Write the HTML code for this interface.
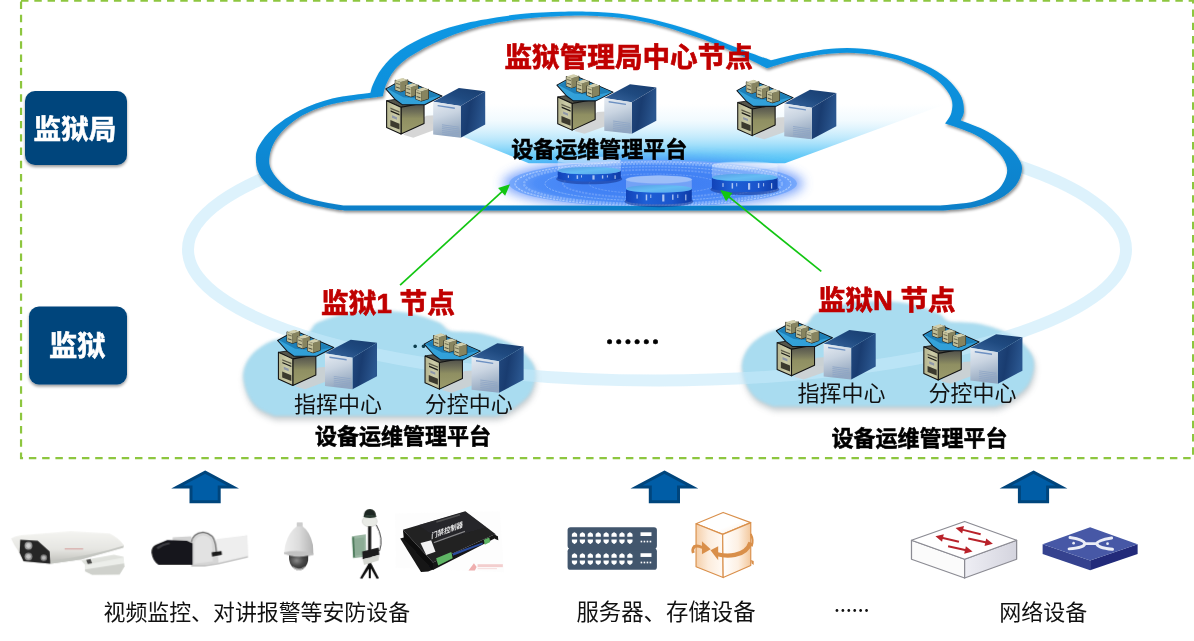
<!DOCTYPE html>
<html lang="zh-CN">
<head>
<meta charset="utf-8">
<title>监狱设备运维管理平台架构</title>
<style>
html,body{margin:0;padding:0;background:#fff;}
body{width:1194px;height:641px;overflow:hidden;position:relative;font-family:'Liberation Sans','Noto Sans CJK SC',sans-serif;}
svg{position:absolute;left:0;top:0;display:block;will-change:transform;}
text{font-family:'Liberation Sans','Noto Sans CJK SC',sans-serif;}
.red{fill:#c00000;font-weight:700;stroke:#c00000;stroke-width:0.7px;}
.blk{fill:#000;font-weight:700;stroke:#000;stroke-width:0.55px;}
.lbl{fill:#111;font-weight:400;}
.wh{fill:#fff;font-weight:700;stroke:#fff;stroke-width:0.6px;}
</style>
</head>
<body>
<svg width="1194" height="641" viewBox="0 0 1194 641">
<defs>
<linearGradient id="gCloud" x1="0" y1="0" x2="0" y2="1">
 <stop offset="0" stop-color="#0c98e4"/><stop offset="0.6" stop-color="#078cd8"/><stop offset="1" stop-color="#0a7fc8"/>
</linearGradient>
<filter id="fSoft" x="-10%" y="-10%" width="120%" height="130%"><feGaussianBlur stdDeviation="1.6"/></filter>
<filter id="fBlur3" x="-20%" y="-40%" width="140%" height="180%"><feGaussianBlur stdDeviation="3"/></filter>
<filter id="fBlur6" x="-20%" y="-60%" width="140%" height="220%"><feGaussianBlur stdDeviation="6"/></filter>
<filter id="fBlur1" x="-10%" y="-10%" width="120%" height="120%"><feGaussianBlur stdDeviation="0.6"/></filter>
<filter id="fShadow" x="-5%" y="-5%" width="110%" height="115%">
 <feGaussianBlur in="SourceAlpha" stdDeviation="1.6" result="b"/>
 <feOffset in="b" dx="1" dy="2.2" result="o"/>
 <feComponentTransfer in="o" result="s"><feFuncA type="linear" slope="0.45"/></feComponentTransfer>
 <feMerge><feMergeNode in="s"/><feMergeNode in="SourceGraphic"/></feMerge>
</filter>
<filter id="fBoxSh" x="-10%" y="-10%" width="120%" height="130%">
 <feGaussianBlur in="SourceAlpha" stdDeviation="1.8" result="b"/>
 <feOffset in="b" dx="0" dy="2" result="o"/>
 <feComponentTransfer in="o" result="s"><feFuncA type="linear" slope="0.4"/></feComponentTransfer>
 <feMerge><feMergeNode in="s"/><feMergeNode in="SourceGraphic"/></feMerge>
</filter>
</defs>
<rect x="21.05" y="0.6" width="1172.05" height="457.45" fill="none" stroke="#8dc63f" stroke-width="2.2" stroke-dasharray="7.45 5.818"/>
<g id="smallclouds">
<g transform="translate(0.0 0.0)"><path d="M274.5 416.0 C271.8 414.7 262.4 411.6 258.0 408.0 C253.6 404.4 250.2 400.2 247.8 394.5 C245.4 388.8 242.8 380.2 243.3 373.8 C243.8 367.4 246.6 361.2 250.8 356.0 C255.0 350.8 262.1 345.8 268.5 342.6 C274.9 339.4 282.6 338.2 289.3 336.7 C296.0 335.2 305.4 334.2 308.6 333.7 C309.1 333.0 309.8 331.2 311.5 329.3 C313.2 327.4 312.8 324.7 319.0 322.0 C325.2 319.3 338.7 314.8 348.6 313.0 C358.5 311.2 368.4 311.0 378.3 311.0 C388.2 311.0 398.0 311.2 407.9 313.0 C417.8 314.8 431.2 319.3 437.6 322.0 C444.0 324.7 444.1 327.7 446.5 329.3 C448.9 330.9 451.1 331.1 452.0 331.5 C457.0 331.9 472.1 331.6 482.0 333.7 C491.9 335.8 503.8 339.9 511.7 344.1 C519.6 348.3 525.5 354.1 529.5 359.0 C533.5 363.9 535.4 367.9 535.4 373.8 C535.4 379.7 533.5 388.6 529.5 394.5 C525.5 400.4 517.1 405.8 511.7 409.4 C506.3 413.0 499.4 414.9 496.9 416.0 L274.5 416.0 Z" fill="#7f8a90" opacity="0.45" filter="url(#fBlur3)" transform="translate(1 4)"/><path d="M274.5 416.0 C271.8 414.7 262.4 411.6 258.0 408.0 C253.6 404.4 250.2 400.2 247.8 394.5 C245.4 388.8 242.8 380.2 243.3 373.8 C243.8 367.4 246.6 361.2 250.8 356.0 C255.0 350.8 262.1 345.8 268.5 342.6 C274.9 339.4 282.6 338.2 289.3 336.7 C296.0 335.2 305.4 334.2 308.6 333.7 C309.1 333.0 309.8 331.2 311.5 329.3 C313.2 327.4 312.8 324.7 319.0 322.0 C325.2 319.3 338.7 314.8 348.6 313.0 C358.5 311.2 368.4 311.0 378.3 311.0 C388.2 311.0 398.0 311.2 407.9 313.0 C417.8 314.8 431.2 319.3 437.6 322.0 C444.0 324.7 444.1 327.7 446.5 329.3 C448.9 330.9 451.1 331.1 452.0 331.5 C457.0 331.9 472.1 331.6 482.0 333.7 C491.9 335.8 503.8 339.9 511.7 344.1 C519.6 348.3 525.5 354.1 529.5 359.0 C533.5 363.9 535.4 367.9 535.4 373.8 C535.4 379.7 533.5 388.6 529.5 394.5 C525.5 400.4 517.1 405.8 511.7 409.4 C506.3 413.0 499.4 414.9 496.9 416.0 L274.5 416.0 Z" fill="#a9dcf0" filter="url(#fSoft)"/></g>
<g transform="translate(498.7 -9.5)"><path d="M274.5 416.0 C271.8 414.7 262.4 411.6 258.0 408.0 C253.6 404.4 250.2 400.2 247.8 394.5 C245.4 388.8 242.8 380.2 243.3 373.8 C243.8 367.4 246.6 361.2 250.8 356.0 C255.0 350.8 262.1 345.8 268.5 342.6 C274.9 339.4 282.6 338.2 289.3 336.7 C296.0 335.2 305.4 334.2 308.6 333.7 C309.1 333.0 309.8 331.2 311.5 329.3 C313.2 327.4 312.8 324.7 319.0 322.0 C325.2 319.3 338.7 314.8 348.6 313.0 C358.5 311.2 368.4 311.0 378.3 311.0 C388.2 311.0 398.0 311.2 407.9 313.0 C417.8 314.8 431.2 319.3 437.6 322.0 C444.0 324.7 444.1 327.7 446.5 329.3 C448.9 330.9 451.1 331.1 452.0 331.5 C457.0 331.9 472.1 331.6 482.0 333.7 C491.9 335.8 503.8 339.9 511.7 344.1 C519.6 348.3 525.5 354.1 529.5 359.0 C533.5 363.9 535.4 367.9 535.4 373.8 C535.4 379.7 533.5 388.6 529.5 394.5 C525.5 400.4 517.1 405.8 511.7 409.4 C506.3 413.0 499.4 414.9 496.9 416.0 L274.5 416.0 Z" fill="#7f8a90" opacity="0.45" filter="url(#fBlur3)" transform="translate(1 4)"/><path d="M274.5 416.0 C271.8 414.7 262.4 411.6 258.0 408.0 C253.6 404.4 250.2 400.2 247.8 394.5 C245.4 388.8 242.8 380.2 243.3 373.8 C243.8 367.4 246.6 361.2 250.8 356.0 C255.0 350.8 262.1 345.8 268.5 342.6 C274.9 339.4 282.6 338.2 289.3 336.7 C296.0 335.2 305.4 334.2 308.6 333.7 C309.1 333.0 309.8 331.2 311.5 329.3 C313.2 327.4 312.8 324.7 319.0 322.0 C325.2 319.3 338.7 314.8 348.6 313.0 C358.5 311.2 368.4 311.0 378.3 311.0 C388.2 311.0 398.0 311.2 407.9 313.0 C417.8 314.8 431.2 319.3 437.6 322.0 C444.0 324.7 444.1 327.7 446.5 329.3 C448.9 330.9 451.1 331.1 452.0 331.5 C457.0 331.9 472.1 331.6 482.0 333.7 C491.9 335.8 503.8 339.9 511.7 344.1 C519.6 348.3 525.5 354.1 529.5 359.0 C533.5 363.9 535.4 367.9 535.4 373.8 C535.4 379.7 533.5 388.6 529.5 394.5 C525.5 400.4 517.1 405.8 511.7 409.4 C506.3 413.0 499.4 414.9 496.9 416.0 L274.5 416.0 Z" fill="#a9dcf0" filter="url(#fSoft)"/></g>
</g>
<ellipse cx="657" cy="249.5" rx="469" ry="131" fill="none" stroke="#c6eafa" stroke-opacity="0.6" stroke-width="12"/>
<path d="M370.5 92.8 C370.9 91.4 371.1 88.5 373.0 84.4 C374.9 80.3 377.5 74.0 382.0 68.3 C386.5 62.6 392.1 56.0 400.2 50.3 C408.3 44.6 418.7 38.9 430.4 34.2 C442.1 29.5 455.5 25.5 470.6 22.1 C485.7 18.8 505.7 15.8 520.8 14.1 C535.9 12.4 549.5 12.1 561.0 11.7 C572.5 11.3 580.1 11.4 590.0 11.7 C599.9 12.0 610.2 12.5 620.2 13.7 C630.2 14.9 640.2 16.9 650.3 19.1 C660.3 21.3 670.5 24.1 680.5 27.1 C690.5 30.1 700.6 33.5 710.6 37.2 C720.6 40.9 730.8 45.4 740.8 49.2 C750.8 53.1 765.9 58.4 770.9 60.3 C775.9 59.1 791.0 55.2 801.0 53.3 C811.0 51.4 821.0 49.5 831.2 48.7 C841.4 47.9 852.0 47.8 862.4 48.7 C872.8 49.6 883.2 51.6 893.6 54.3 C904.0 57.0 915.9 61.0 924.8 65.0 C933.6 69.0 940.7 73.3 946.7 78.4 C952.7 83.5 957.8 90.0 960.7 95.5 C963.6 101.0 963.9 106.9 963.9 111.1 C963.9 115.3 961.2 118.9 960.7 120.5 C965.1 122.3 979.2 127.0 987.3 131.4 C995.4 135.8 1003.6 142.1 1009.1 147.0 C1014.6 151.9 1017.9 156.9 1020.0 161.1 C1022.1 165.3 1022.4 167.8 1021.6 172.0 C1020.8 176.2 1019.0 181.6 1015.4 186.0 C1011.8 190.4 1006.6 195.0 999.8 198.5 C993.0 202.0 984.7 204.9 974.8 206.9 C964.9 208.9 946.1 210.0 940.4 210.6 L345.4 210.6 C343.2 210.3 339.9 210.4 332.3 208.8 C324.7 207.2 309.4 204.5 299.6 201.2 C289.8 197.9 280.1 193.8 273.4 189.2 C266.7 184.6 262.1 179.0 259.2 173.9 C256.3 168.8 255.9 163.3 255.9 158.6 C255.9 153.9 256.3 150.6 259.2 145.5 C262.1 140.4 266.7 133.8 273.4 128.0 C280.1 122.2 289.8 115.5 299.6 110.6 C309.4 105.7 320.5 101.6 332.3 98.6 C344.1 95.6 364.1 93.8 370.5 92.8 Z" fill="#fff"/>
<path d="M370.5 92.8 C370.9 91.4 371.1 88.5 373.0 84.4 C374.9 80.3 377.5 74.0 382.0 68.3 C386.5 62.6 392.1 56.0 400.2 50.3 C408.3 44.6 418.7 38.9 430.4 34.2 C442.1 29.5 455.5 25.5 470.6 22.1 C485.7 18.8 505.7 15.8 520.8 14.1 C535.9 12.4 549.5 12.1 561.0 11.7 C572.5 11.3 580.1 11.4 590.0 11.7 C599.9 12.0 610.2 12.5 620.2 13.7 C630.2 14.9 640.2 16.9 650.3 19.1 C660.3 21.3 670.5 24.1 680.5 27.1 C690.5 30.1 700.6 33.5 710.6 37.2 C720.6 40.9 730.8 45.4 740.8 49.2 C750.8 53.1 765.9 58.4 770.9 60.3 C775.9 59.1 791.0 55.2 801.0 53.3 C811.0 51.4 821.0 49.5 831.2 48.7 C841.4 47.9 852.0 47.8 862.4 48.7 C872.8 49.6 883.2 51.6 893.6 54.3 C904.0 57.0 915.9 61.0 924.8 65.0 C933.6 69.0 940.7 73.3 946.7 78.4 C952.7 83.5 957.8 90.0 960.7 95.5 C963.6 101.0 963.9 106.9 963.9 111.1 C963.9 115.3 961.2 118.9 960.7 120.5 C965.1 122.3 979.2 127.0 987.3 131.4 C995.4 135.8 1003.6 142.1 1009.1 147.0 C1014.6 151.9 1017.9 156.9 1020.0 161.1 C1022.1 165.3 1022.4 167.8 1021.6 172.0 C1020.8 176.2 1019.0 181.6 1015.4 186.0 C1011.8 190.4 1006.6 195.0 999.8 198.5 C993.0 202.0 984.7 204.9 974.8 206.9 C964.9 208.9 946.1 210.0 940.4 210.6 L345.4 210.6 C343.2 210.3 339.9 210.4 332.3 208.8 C324.7 207.2 309.4 204.5 299.6 201.2 C289.8 197.9 280.1 193.8 273.4 189.2 C266.7 184.6 262.1 179.0 259.2 173.9 C256.3 168.8 255.9 163.3 255.9 158.6 C255.9 153.9 256.3 150.6 259.2 145.5 C262.1 140.4 266.7 133.8 273.4 128.0 C280.1 122.2 289.8 115.5 299.6 110.6 C309.4 105.7 320.5 101.6 332.3 98.6 C344.1 95.6 364.1 93.8 370.5 92.8 Z M382.8 96.2 C383.4 94.2 384.2 88.7 386.1 84.4 C388.0 80.1 390.2 75.1 394.2 70.4 C398.2 65.7 402.6 61.3 410.3 56.3 C418.0 51.3 428.7 45.2 440.4 40.2 C452.1 35.2 467.2 29.6 480.6 26.1 C494.0 22.6 507.4 20.8 520.8 19.1 C534.2 17.4 549.5 16.7 561.0 16.1 C572.5 15.5 580.1 15.4 590.0 15.7 C599.9 16.0 610.2 16.5 620.2 17.7 C630.2 18.9 640.2 20.8 650.3 23.1 C660.3 25.5 670.5 28.6 680.5 31.8 C690.5 35.0 700.6 38.3 710.6 42.2 C720.6 46.1 731.4 50.9 740.8 55.3 C750.2 59.6 762.5 66.1 766.9 68.3 C772.6 66.6 790.3 60.8 801.0 58.3 C811.7 55.8 821.0 54.2 831.2 53.4 C841.4 52.6 852.0 52.5 862.4 53.4 C872.8 54.3 883.7 55.9 893.6 58.7 C903.5 61.5 913.9 65.9 921.7 70.0 C929.5 74.1 935.5 78.3 940.4 83.1 C945.3 87.9 949.6 93.8 951.4 98.7 C953.2 103.6 952.4 108.6 951.4 112.7 C950.4 116.8 946.1 121.8 945.1 123.6 C950.0 125.4 966.2 130.2 974.8 134.6 C983.4 139.0 991.4 145.3 996.6 150.2 C1001.8 155.1 1004.4 159.8 1006.0 164.2 C1007.6 168.6 1007.6 172.3 1006.0 176.7 C1004.4 181.1 1001.8 186.6 996.6 190.7 C991.4 194.8 984.2 198.7 974.8 201.2 C965.4 203.7 946.1 204.9 940.4 205.6 L343.2 205.6 C337.8 204.5 319.6 201.7 310.5 199.0 C301.4 196.3 295.1 193.8 288.7 189.2 C282.3 184.6 275.5 177.2 272.3 171.7 C269.1 166.2 268.6 162.2 269.5 156.4 C270.4 150.6 272.8 143.4 277.8 136.8 C282.8 130.2 290.5 122.6 299.6 117.1 C308.7 111.6 318.4 107.5 332.3 104.0 C346.2 100.5 374.4 97.5 382.8 96.2 Z" fill="url(#gCloud)" fill-rule="evenodd" filter="url(#fShadow)"/>
<defs>
<linearGradient id="gBeigeR" x1="0" y1="0" x2="0" y2="1">
 <stop offset="0" stop-color="#4c4c48"/><stop offset="0.28" stop-color="#6f6f58"/><stop offset="0.5" stop-color="#8f8f62"/><stop offset="1" stop-color="#9c9c6c"/>
</linearGradient>
<linearGradient id="gBeigeF" x1="0" y1="0" x2="1" y2="0">
 <stop offset="0" stop-color="#b4b48e"/><stop offset="0.6" stop-color="#cbcba8"/><stop offset="1" stop-color="#bebe98"/>
</linearGradient>
<linearGradient id="gTowF" x1="0" y1="0" x2="0.25" y2="1">
 <stop offset="0" stop-color="#e6ecf3"/><stop offset="0.45" stop-color="#c9d4e1"/><stop offset="1" stop-color="#93a7bf"/>
</linearGradient>
<linearGradient id="gTowR" x1="0" y1="0" x2="1" y2="0.3">
 <stop offset="0" stop-color="#22497f"/><stop offset="0.45" stop-color="#193c70"/><stop offset="1" stop-color="#2a568f"/>
</linearGradient>
<linearGradient id="gTowT" x1="0" y1="1" x2="1" y2="0">
 <stop offset="0" stop-color="#3a679f"/><stop offset="0.5" stop-color="#1f4a80"/><stop offset="1" stop-color="#183c6e"/>
</linearGradient>
<linearGradient id="gTray" x1="0" y1="0" x2="1" y2="1">
 <stop offset="0" stop-color="#3aa7dc"/><stop offset="1" stop-color="#2d9cd6"/>
</linearGradient>
<g id="mini">
 <polygon points="0,20 42,33 97,17 97,90 42,108 0,93" fill="#2a2a22" stroke="#23231c" stroke-width="8" stroke-linejoin="round"/>
 <polygon points="0,20 42,33 42,108 0,93" fill="#c2bf98"/>
 <polygon points="42,33 97,17 97,90 42,108" fill="#87845f"/>
 <polygon points="0,20 55,2 97,17 42,33" fill="#d2cfac"/>
 <polygon points="6,38 36,48 36,56 6,46" fill="#6d6b52"/>
 <polygon points="6,68 36,78 36,86 6,76" fill="#4f4d3c"/>
</g>
<g id="pc">
 <polygon points="215,568 410,405 492,400 492,522 300,592" fill="#cfcfcf" opacity="0.85"/>
 <!-- beige tower -->
 <polygon points="72,276 195,332 392,296 270,246" fill="#55554a" stroke="#111" stroke-width="7" stroke-linejoin="round"/>
 <polygon points="195,332 392,296 392,470 195,560" fill="url(#gBeigeR)" stroke="#111" stroke-width="9" stroke-linejoin="round"/>
 <polygon points="72,276 195,332 195,560 72,505" fill="url(#gBeigeF)" stroke="#111" stroke-width="9" stroke-linejoin="round"/>
 <polygon points="104,335 182,366 182,378 104,347" fill="#5d5b48"/>
 <polygon points="106,358 182,390 182,402 106,370" fill="#1c1c18"/>
 <polygon points="118,400 160,417 160,438 118,421" fill="#8f98a8"/>
 <polygon points="104,440 182,472 182,522 104,492" fill="#3c3a2e"/>
 <!-- tray -->
 <polygon points="65,175 215,92 545,235 398,310 205,310 148,268" fill="url(#gTray)" stroke="#10161e" stroke-width="9" stroke-linejoin="round"/>
 <polygon points="82,176 215,100 528,234 392,262 215,246" fill="#1a79b2" opacity="0.85"/>
 <use href="#mini" transform="translate(146 80) scale(1.1)"/>
 <use href="#mini" transform="translate(234 124) scale(1.1)"/>
 <use href="#mini" transform="translate(322 160) scale(1.1)"/>
 <!-- blue tower -->
 <polygon points="470,285 690,168 915,195 705,322" fill="url(#gTowT)"/>
 <polygon points="705,322 915,195 915,480 705,592" fill="url(#gTowR)"/>
 <polygon points="470,285 705,322 705,592 470,565" fill="url(#gTowF)"/>
 <polygon points="508,312 655,334 655,346 508,324" fill="#6c90c2"/>
 <g fill="#8fa6c6" opacity="0.9">
  <polygon points="545,478 690,498 690,506 545,486"/>
  <polygon points="545,494 690,514 690,522 545,502"/>
  <polygon points="545,510 690,530 690,538 545,518"/>
  <polygon points="545,526 690,546 690,554 545,534"/>
  <polygon points="545,542 690,562 690,570 545,550"/>
  <polygon points="545,558 690,578 690,586 545,566"/>
 </g>
</g>
</defs>
<text id="dd" class="blk" x="411" y="356.3" font-size="25" style="font-family:'Noto Sans CJK SC',sans-serif;stroke-width:0;font-weight:500;fill:#0c3c4c">…</text>
<defs>
<linearGradient id="gBeam" x1="0" y1="0" x2="0" y2="1">
 <stop offset="0" stop-color="#c8ecfc" stop-opacity="0"/><stop offset="0.28" stop-color="#c8ecfc" stop-opacity="0.25"/><stop offset="0.6" stop-color="#aee3fb" stop-opacity="0.85"/><stop offset="0.85" stop-color="#6fcdf8" stop-opacity="1"/><stop offset="1" stop-color="#4cc1f6" stop-opacity="1"/>
</linearGradient>
<radialGradient id="gPlat" cx="0.5" cy="0.5" r="0.5">
 <stop offset="0" stop-color="#3f7cf2"/><stop offset="0.55" stop-color="#4383f5"/><stop offset="0.82" stop-color="#4f8ef8"/><stop offset="1" stop-color="#78a9fc"/>
</radialGradient>
<linearGradient id="gBand" x1="0" y1="0" x2="1" y2="0">
 <stop offset="0" stop-color="#1243b8"/><stop offset="0.3" stop-color="#1d5fd6"/><stop offset="0.7" stop-color="#1a55cc"/><stop offset="1" stop-color="#0d3aa6"/>
</linearGradient>
<linearGradient id="gBandTop" x1="0" y1="0" x2="1" y2="1">
 <stop offset="0" stop-color="#1576da"/><stop offset="0.5" stop-color="#2ba4ef"/><stop offset="1" stop-color="#1784e2"/>
</linearGradient>
<clipPath id="cpCloud"><path d="M382.8 96.2 C383.4 94.2 384.2 88.7 386.1 84.4 C388.0 80.1 390.2 75.1 394.2 70.4 C398.2 65.7 402.6 61.3 410.3 56.3 C418.0 51.3 428.7 45.2 440.4 40.2 C452.1 35.2 467.2 29.6 480.6 26.1 C494.0 22.6 507.4 20.8 520.8 19.1 C534.2 17.4 549.5 16.7 561.0 16.1 C572.5 15.5 580.1 15.4 590.0 15.7 C599.9 16.0 610.2 16.5 620.2 17.7 C630.2 18.9 640.2 20.8 650.3 23.1 C660.3 25.5 670.5 28.6 680.5 31.8 C690.5 35.0 700.6 38.3 710.6 42.2 C720.6 46.1 731.4 50.9 740.8 55.3 C750.2 59.6 762.5 66.1 766.9 68.3 C772.6 66.6 790.3 60.8 801.0 58.3 C811.7 55.8 821.0 54.2 831.2 53.4 C841.4 52.6 852.0 52.5 862.4 53.4 C872.8 54.3 883.7 55.9 893.6 58.7 C903.5 61.5 913.9 65.9 921.7 70.0 C929.5 74.1 935.5 78.3 940.4 83.1 C945.3 87.9 949.6 93.8 951.4 98.7 C953.2 103.6 952.4 108.6 951.4 112.7 C950.4 116.8 946.1 121.8 945.1 123.6 C950.0 125.4 966.2 130.2 974.8 134.6 C983.4 139.0 991.4 145.3 996.6 150.2 C1001.8 155.1 1004.4 159.8 1006.0 164.2 C1007.6 168.6 1007.6 172.3 1006.0 176.7 C1004.4 181.1 1001.8 186.6 996.6 190.7 C991.4 194.8 984.2 198.7 974.8 201.2 C965.4 203.7 946.1 204.9 940.4 205.6 L343.2 205.6 C337.8 204.5 319.6 201.7 310.5 199.0 C301.4 196.3 295.1 193.8 288.7 189.2 C282.3 184.6 275.5 177.2 272.3 171.7 C269.1 166.2 268.6 162.2 269.5 156.4 C270.4 150.6 272.8 143.4 277.8 136.8 C282.8 130.2 290.5 122.6 299.6 117.1 C308.7 111.6 318.4 107.5 332.3 104.0 C346.2 100.5 374.4 97.5 382.8 96.2 Z"/></clipPath>
</defs>
<g clip-path="url(#cpCloud)"><polygon points="381.9,104 945.9,104 785,163.2 528.8,163.2" fill="url(#gBeam)"/><ellipse cx="653" cy="183.5" rx="150" ry="25.5" fill="#5388fa" opacity="0.8" filter="url(#fBlur6)"/><ellipse cx="653" cy="183.5" rx="144" ry="23.5" fill="url(#gPlat)" filter="url(#fBlur1)"/><ellipse cx="653" cy="183.8" rx="138" ry="22" fill="none" stroke="#dbeaff" stroke-opacity="0.55" stroke-width="1.2" stroke-dasharray="2.2 1.1"/><ellipse cx="653" cy="183.8" rx="129" ry="20.3" fill="none" stroke="#dbeaff" stroke-opacity="0.3" stroke-width="2.4" stroke-dasharray="2.2 1.1"/><ellipse cx="653" cy="183.8" rx="108" ry="17" fill="none" stroke="#dbeaff" stroke-opacity="0.4" stroke-width="0.9" stroke-dasharray="2.2 1.1"/><ellipse cx="653" cy="183.8" rx="90" ry="14" fill="none" stroke="#dbeaff" stroke-opacity="0.22" stroke-width="1.8" stroke-dasharray="2.2 1.1"/><ellipse cx="653" cy="183.8" rx="64" ry="9.8" fill="none" stroke="#dbeaff" stroke-opacity="0.3" stroke-width="0.8" stroke-dasharray="2.2 1.1"/></g>
<ellipse cx="589.2" cy="178.9" rx="33.1" ry="5.4" fill="#0b2c86" opacity="0.5" filter="url(#fBlur1)"/><path d="M557.7 170.6 L557.7 177.9 A31.5 3.6 0 0 0 620.8 177.9 L620.8 170.6 A31.5 3.6 0 0 1 557.7 170.6 Z" fill="url(#gBand)"/><ellipse cx="589.2" cy="170.6" rx="31.5" ry="3.6" fill="url(#gBandTop)"/><rect x="567.8" y="175.3" width="1.2" height="2.5" fill="#e6f1ff" opacity="0.7"/><rect x="576.6" y="175.3" width="1.5" height="3.6" fill="#e6f1ff" opacity="0.7"/><rect x="581.0" y="175.3" width="1.0" height="2.2" fill="#e6f1ff" opacity="0.7"/><rect x="592.4" y="175.3" width="2.2" height="4.3" fill="#e6f1ff" opacity="0.7"/><rect x="601.9" y="175.3" width="1.4" height="3.3" fill="#e6f1ff" opacity="0.7"/><rect x="606.9" y="175.3" width="1.0" height="2.2" fill="#e6f1ff" opacity="0.7"/><rect x="614.5" y="175.3" width="1.2" height="3.6" fill="#e6f1ff" opacity="0.7"/><path d="M557.7 160.4 L557.7 170.6 A31.5 3.6 0 0 0 620.8 170.6 L620.8 160.4 A31.5 3.6 0 0 0 557.7 160.4 Z" fill="#eaf4ff" opacity="0.3"/><ellipse cx="589.2" cy="160.4" rx="31.5" ry="3.6" fill="#f6faff" opacity="0.32" stroke="#fff" stroke-opacity="0.8" stroke-width="0.6"/>
<ellipse cx="744.8" cy="189.4" rx="34.5" ry="5.7" fill="#0b2c86" opacity="0.5" filter="url(#fBlur1)"/><path d="M711.9 177.5 L711.9 188.4 A32.9 3.8 0 0 0 777.6 188.4 L777.6 177.5 A32.9 3.8 0 0 1 711.9 177.5 Z" fill="url(#gBand)"/><ellipse cx="744.8" cy="177.5" rx="32.9" ry="3.8" fill="url(#gBandTop)"/><rect x="722.4" y="183.1" width="1.2" height="3.8" fill="#e6f1ff" opacity="0.7"/><rect x="731.6" y="183.1" width="1.5" height="5.5" fill="#e6f1ff" opacity="0.7"/><rect x="736.2" y="183.1" width="1.0" height="3.3" fill="#e6f1ff" opacity="0.7"/><rect x="748.0" y="183.1" width="2.2" height="6.6" fill="#e6f1ff" opacity="0.7"/><rect x="757.9" y="183.1" width="1.4" height="4.9" fill="#e6f1ff" opacity="0.7"/><rect x="763.1" y="183.1" width="1.0" height="3.3" fill="#e6f1ff" opacity="0.7"/><rect x="771.0" y="183.1" width="1.2" height="5.5" fill="#e6f1ff" opacity="0.7"/><path d="M711.9 165.4 L711.9 177.5 A32.9 3.8 0 0 0 777.6 177.5 L777.6 165.4 A32.9 3.8 0 0 0 711.9 165.4 Z" fill="#eaf4ff" opacity="0.3"/><ellipse cx="744.8" cy="165.4" rx="32.9" ry="3.8" fill="#f6faff" opacity="0.32" stroke="#fff" stroke-opacity="0.8" stroke-width="0.6"/>
<ellipse cx="658.9" cy="201.5" rx="34.5" ry="5.7" fill="#0b2c86" opacity="0.5" filter="url(#fBlur1)"/><path d="M626.0 188.8 L626.0 200.5 A32.9 3.8 0 0 0 691.8 200.5 L691.8 188.8 A32.9 3.8 0 0 1 626.0 188.8 Z" fill="url(#gBand)"/><ellipse cx="658.9" cy="188.8" rx="32.9" ry="3.8" fill="url(#gBandTop)"/><rect x="636.5" y="194.5" width="1.2" height="4.1" fill="#e6f1ff" opacity="0.7"/><rect x="645.7" y="194.5" width="1.5" height="5.9" fill="#e6f1ff" opacity="0.7"/><rect x="650.3" y="194.5" width="1.0" height="3.5" fill="#e6f1ff" opacity="0.7"/><rect x="662.2" y="194.5" width="2.2" height="7.0" fill="#e6f1ff" opacity="0.7"/><rect x="672.1" y="194.5" width="1.4" height="5.3" fill="#e6f1ff" opacity="0.7"/><rect x="677.3" y="194.5" width="1.0" height="3.5" fill="#e6f1ff" opacity="0.7"/><rect x="685.2" y="194.5" width="1.2" height="5.9" fill="#e6f1ff" opacity="0.7"/><path d="M626.0 179.4 L626.0 188.8 A32.9 3.8 0 0 0 691.8 188.8 L691.8 179.4 A32.9 3.8 0 0 0 626.0 179.4 Z" fill="#eaf4ff" opacity="0.3"/><ellipse cx="658.9" cy="179.4" rx="32.9" ry="3.8" fill="#f6faff" opacity="0.32" stroke="#fff" stroke-opacity="0.8" stroke-width="0.6"/>
<use href="#pc" transform="translate(385.8 88.9) scale(0.11696) translate(-65 -175)"/>
<use href="#pc" transform="translate(556.9 85.1) scale(0.11696) translate(-65 -175)"/>
<use href="#pc" transform="translate(736.9 90.6) scale(0.11696) translate(-65 -175)"/>
<use href="#pc" transform="translate(277.6 340.5) scale(0.11696) translate(-65 -175)"/>
<use href="#pc" transform="translate(424.2 344.1) scale(0.11696) translate(-65 -175)"/>
<use href="#pc" transform="translate(776.3 330.8) scale(0.11696) translate(-65 -175)"/>
<use href="#pc" transform="translate(923.0 335.0) scale(0.11696) translate(-65 -175)"/>
<rect x="25" y="91" width="102" height="74" rx="10" fill="#00457c" filter="url(#fBoxSh)"/>
<rect x="29" y="306.5" width="98" height="78" rx="10" fill="#00457c" filter="url(#fBoxSh)"/>
<text class="wh" x="75" y="139" font-size="27.6" text-anchor="middle">监狱局</text>
<text class="wh" x="77.2" y="356.2" font-size="28.3" text-anchor="middle">监狱</text>
<text class="red" x="628.7" y="67.2" font-size="27.6" text-anchor="middle">监狱管理局中心节点</text>
<text class="blk" x="599.3" y="156.9" font-size="22" text-anchor="middle">设备运维管理平台</text>
<text class="red" x="388" y="312.7" font-size="27.7" text-anchor="middle">监狱1 节点</text>
<text class="red" x="886.8" y="310" font-size="27.5" text-anchor="middle">监狱N 节点</text>
<text class="lbl" x="338" y="412" font-size="22" text-anchor="middle">指挥中心</text>
<text class="lbl" x="468.7" y="412" font-size="22" text-anchor="middle">分控中心</text>
<text class="lbl" x="841.6" y="400.5" font-size="22" text-anchor="middle">指挥中心</text>
<text class="lbl" x="972.5" y="400.5" font-size="22" text-anchor="middle">分控中心</text>
<text class="blk" x="403" y="444.3" font-size="22" text-anchor="middle">设备运维管理平台</text>
<text class="blk" x="919.6" y="446" font-size="22" text-anchor="middle">设备运维管理平台</text>
<text class="blk" x="632.6" y="352.2" font-size="27.6" text-anchor="middle" style="font-family:'Noto Sans CJK SC',sans-serif">……</text>
<text class="lbl" x="256.8" y="620" font-size="21.9" text-anchor="middle">视频监控、对讲报警等安防设备</text>
<text class="lbl" x="666" y="620" font-size="22.4" text-anchor="middle">服务器、存储设备</text>
<text class="lbl" x="851.8" y="617" font-size="17.8" text-anchor="middle" style="font-family:'Noto Sans CJK SC',sans-serif;font-weight:700">……</text>
<text class="lbl" x="1043.2" y="620" font-size="22" text-anchor="middle">网络设备</text>
<line x1="400.1" y1="285.2" x2="503.1" y2="190.6" stroke="#12c612" stroke-width="1.7"/><polygon points="510.1,184.2 505.1,195.8 498.1,188.1" fill="#12c612"/>
<line x1="821.3" y1="271.4" x2="727.7" y2="195.9" stroke="#12c612" stroke-width="1.7"/><polygon points="720.3,189.9 732.5,193.1 726.0,201.2" fill="#12c612"/>
<polygon points="205.1,472.1 233.0,487.0 219.2,487.0 219.2,501.8 191.0,501.8 191.0,487.0 177.2,487.0" fill="#005da6" stroke="#00457c" stroke-width="3" stroke-linejoin="miter" stroke-miterlimit="12"/>
<polygon points="664.4,472.1 692.3,487.0 678.5,487.0 678.5,501.8 650.3,501.8 650.3,487.0 636.5,487.0" fill="#005da6" stroke="#00457c" stroke-width="3" stroke-linejoin="miter" stroke-miterlimit="12"/>
<polygon points="1033.5,472.1 1061.4,487.0 1047.6,487.0 1047.6,501.8 1019.4,501.8 1019.4,487.0 1005.6,487.0" fill="#005da6" stroke="#00457c" stroke-width="3" stroke-linejoin="miter" stroke-miterlimit="12"/>
<defs>
<linearGradient id="gCam1" x1="0" y1="0" x2="0" y2="1"><stop offset="0" stop-color="#f4f4f1"/><stop offset="0.55" stop-color="#e6e6e2"/><stop offset="1" stop-color="#bdbdb8"/></linearGradient>
<linearGradient id="gCam2" x1="0" y1="0" x2="0" y2="1"><stop offset="0" stop-color="#fafafa"/><stop offset="0.6" stop-color="#ececec"/><stop offset="1" stop-color="#c9c9c9"/></linearGradient>
<linearGradient id="gDome" x1="0" y1="0" x2="1" y2="0"><stop offset="0" stop-color="#efefef"/><stop offset="0.5" stop-color="#dcdcdc"/><stop offset="1" stop-color="#b4b4b4"/></linearGradient>
<radialGradient id="gDomeB" cx="0.4" cy="0.35" r="0.7"><stop offset="0" stop-color="#8a8a8a"/><stop offset="0.5" stop-color="#4a4a4a"/><stop offset="1" stop-color="#2c2c2c"/></radialGradient>
<linearGradient id="gCubeL" x1="0" y1="0" x2="1" y2="0"><stop offset="0" stop-color="#f5cfa9"/><stop offset="0.45" stop-color="#fcecdc"/><stop offset="1" stop-color="#fffaf5"/></linearGradient>
<linearGradient id="gCubeR" x1="0" y1="0" x2="1" y2="0"><stop offset="0" stop-color="#ffffff"/><stop offset="0.55" stop-color="#fdf0e3"/><stop offset="1" stop-color="#f3c89d"/></linearGradient>
<linearGradient id="gCubeT" x1="0" y1="0" x2="1" y2="1"><stop offset="0" stop-color="#fff"/><stop offset="0.6" stop-color="#fff"/><stop offset="1" stop-color="#fbe6d2"/></linearGradient>
<linearGradient id="gSwR" x1="0" y1="0" x2="1" y2="0"><stop offset="0" stop-color="#eeeef4"/><stop offset="1" stop-color="#d4d4de"/></linearGradient>
<filter id="fPhoto" x="-5%" y="-10%" width="110%" height="120%"><feGaussianBlur stdDeviation="1.6"/></filter>
<filter id="fPhoto2" x="-5%" y="-10%" width="110%" height="120%"><feGaussianBlur stdDeviation="1.1"/></filter>
</defs>
<g transform="translate(0 500) scale(0.226131)">
<g filter="url(#fPhoto)">
<!-- bullet camera -->
<g transform="translate(22.11 88.45) scale(0.4814)">
<g transform="scale(1)">
<path d="M700,372 L1000,318 L1088,338 L1096,430 L1052,500 L800,502 L735,470 L735,410Z" fill="#dfe1dc"/>
<path d="M735,410 L1090,345 L1096,430 L1052,500 L800,502 L735,470Z" fill="#eceeea"/>
<path d="M735,455 L1094,400 L1096,430 L1052,500 L800,502 L735,470Z" fill="#cfd1cc"/>
<path d="M745,366 L785,358 L800,396 L760,404Z" fill="#4a4a48"/>
<path d="M55,170 Q90,150 150,140 L600,104 L960,124 Q1040,160 1092,232 L1086,254 L700,362 L420,402 L170,378 L132,300 Q80,230 55,170Z" fill="url(#gCam1)"/>
<path d="M420,402 L700,362 L1086,254 L1090,236 Q800,330 420,372Z" fill="#c3c5c0"/>
<path d="M140,180 L300,190 L410,290 L416,402 L170,378 L134,300Z" fill="#262626"/>
<circle cx="215" cy="236" r="36" fill="#9a9a9a"/><circle cx="215" cy="236" r="22" fill="#cfcfcf"/>
<circle cx="215" cy="336" r="36" fill="#8a8a8a"/><circle cx="215" cy="336" r="22" fill="#c4c4c4"/>
<circle cx="356" cy="346" r="30" fill="#808080"/><circle cx="356" cy="346" r="18" fill="#b8b8b8"/>
<rect x="548" y="262" width="170" height="8" fill="#cc8080" opacity="0.85"/>
</g>
</g>
<!-- box camera -->
<g transform="translate(619.1 88.45) scale(0.4814)">
<path d="M300,160 L470,150 L480,200 L300,200Z" fill="#d2d2d2"/>
<path d="M470,200 Q480,120 580,112 Q680,120 700,200 L985,140 L992,330 L722,392 L592,412 L470,412Z" fill="#e9e9e9"/>
<path d="M700,176 L985,140 L992,330 L722,392Z" fill="#eeeeee"/>
<path d="M470,200 Q480,120 580,112 Q680,120 700,200 L722,392 L592,412 L470,412Z" fill="#d6d6d6"/>
<path d="M500,210 Q510,150 580,140 Q640,146 660,200 L670,380 L500,400Z" fill="#e2e2e2"/>
<path d="M470,412 L592,412 L722,392 L992,330 L992,344 L724,408 L594,428 L470,428Z" fill="#c2c2c2"/>
<path d="M105,300 Q104,244 150,226 L250,184 L430,190 L482,214 L482,412 L170,412 Q118,384 105,300Z" fill="#17171b"/>
<path d="M150,250 Q200,215 270,205 L275,222 Q215,232 165,270Z" fill="#3c3c42"/>
<path d="M472,205 Q482,122 580,112 Q676,122 694,226 L702,300" fill="none" stroke="#6e6e6e" stroke-width="11"/>
<polygon points="658,296 748,286 752,320 662,336" fill="#1a1a1a"/>
</g>
</g>
</g>
<g transform="translate(260 500) scale(0.226131)">
<g filter="url(#fPhoto)">
<!-- dome camera -->
<g transform="translate(44.22 22.11) scale(0.55174)">
<rect x="214" y="140" width="48" height="34" rx="6" fill="#cdcdcd"/>
<path d="M214,172 Q150,215 122,320 L112,388 Q230,424 348,398 L344,320 Q322,215 262,172Z" fill="url(#gDome)"/>
<path d="M112,380 Q230,352 348,390 L348,400 Q230,440 112,392Z" fill="#c2c2c2"/>
<path d="M152,404 Q146,480 200,514 Q230,530 264,514 Q312,480 306,406 Q230,424 152,404Z" fill="url(#gDomeB)"/>
<path d="M180,490 Q230,530 286,488 Q262,520 230,524 Q200,520 180,490Z" fill="#d4d4d4" opacity="0.85"/>
</g>
<!-- tripod radar -->
<path d="M458,74 Q460,40 486,40 Q512,40 514,74Z" fill="#1c2620"/>
<ellipse cx="485" cy="94" rx="33" ry="25" fill="#e9ebe6" stroke="#cfd1cc" stroke-width="3"/>
<ellipse cx="486" cy="73" rx="28" ry="7" fill="#2a3a30"/>
<rect x="478" y="116" width="14" height="175" fill="#1e1e1e"/>
<polygon points="406,160 468,152 470,250 412,258" fill="#9ab6a2"/>
<polygon points="418,172 460,166 461,240 420,246" fill="#86a890" opacity="0.7"/>
<polygon points="408,166 416,164 420,252 412,254" fill="#4c7a5a"/>
<polygon points="452,228 524,210 528,242 454,262" fill="#1e1e1e"/>
<polygon points="454,262 528,242 524,268 460,288" fill="#d6d8d2"/>
<path d="M514,110 Q548,170 528,226" fill="none" stroke="#222" stroke-width="4"/>
<polygon points="478,284 494,284 452,348 442,346" fill="#111"/>
<polygon points="480,284 494,284 526,346 516,348" fill="#111"/>
<rect x="481" y="290" width="9" height="56" fill="#111"/>
</g>
<g filter="url(#fPhoto2)">
<!-- door controller -->
<polygon points="598,60 1060,50 1080,320 600,300" fill="#f8f8f8" opacity="0.3"/>
<polygon points="620,170 636,166 768,306 744,316 712,318" fill="#141414"/>
<polygon points="1030,150 1052,160 1054,178 1040,172" fill="#141414"/>
<polygon points="632,132 908,50 1041,150 765,276" fill="#202022"/>
<polygon points="632,132 765,276 765,310 636,170" fill="#0b0b0c"/>
<polygon points="765,276 1041,150 1042,168 765,310" fill="#131314"/>
<polygon points="700,112 908,52 1000,120 800,178" fill="#2a2a2d" opacity="0.7"/>
<polygon points="779,94 884,62 886,69 781,101" fill="#5a5a5a" opacity="0.8"/>
<polygon points="710,190 757,178 776,229 735,243" fill="#f2f2f2"/>
<polygon points="779,258 846,230 852,258 788,290" fill="#5fb565"/>
<polygon points="990,176 1014,166 1018,186 994,198" fill="#5fb565"/>
<polygon points="852,236 984,188 985,196 853,246" fill="#2c4d9e"/>
<text transform="translate(757 171) rotate(-20.3) skewX(-22)" font-size="30" font-weight="700" fill="#efefef">门禁控制器</text>
<polygon points="768,186 906,136 907,141 769,191" fill="#bdbdbd" opacity="0.65"/>
<g opacity="0.5"><polygon points="922,312 946,280 958,296 950,312" fill="#e06060"/><rect x="962" y="284" width="112" height="13" fill="#e9a0a0"/><rect x="962" y="301" width="86" height="5" fill="#efc0c0"/></g>
</g>
</g>
<g transform="translate(540 500) scale(0.226131)">
<rect x="122" y="120" width="395" height="95" rx="13" fill="#42566d"/><rect x="122" y="214" width="395" height="95" rx="13" fill="#42566d"/><rect x="128" y="206" width="383" height="18" fill="#42566d"/><path d="M140.9,162.3 v-9 q0,-4 4,-6 l5,-3.5 q2.65,-1.5 5.3,0 l5,3.5 q4,2 4,6 v9z" fill="#fff"/><path d="M140.9,174.8 h23.3 v8 q0,5 -5,7.5 l-4.5,3 q-2.15,1.5 -4.3,0 l-4.5,-3 q-5,-2.5 -5,-7.5z" fill="#fff"/><path d="M175.9,162.3 v-9 q0,-4 4,-6 l5,-3.5 q2.65,-1.5 5.3,0 l5,3.5 q4,2 4,6 v9z" fill="#fff"/><path d="M175.9,174.8 h23.3 v8 q0,5 -5,7.5 l-4.5,3 q-2.15,1.5 -4.3,0 l-4.5,-3 q-5,-2.5 -5,-7.5z" fill="#fff"/><path d="M210.9,162.3 v-9 q0,-4 4,-6 l5,-3.5 q2.65,-1.5 5.3,0 l5,3.5 q4,2 4,6 v9z" fill="#fff"/><path d="M210.9,174.8 h23.3 v8 q0,5 -5,7.5 l-4.5,3 q-2.15,1.5 -4.3,0 l-4.5,-3 q-5,-2.5 -5,-7.5z" fill="#fff"/><path d="M245.9,162.3 v-9 q0,-4 4,-6 l5,-3.5 q2.65,-1.5 5.3,0 l5,3.5 q4,2 4,6 v9z" fill="#fff"/><path d="M245.9,174.8 h23.3 v8 q0,5 -5,7.5 l-4.5,3 q-2.15,1.5 -4.3,0 l-4.5,-3 q-5,-2.5 -5,-7.5z" fill="#fff"/><path d="M280.9,162.3 v-9 q0,-4 4,-6 l5,-3.5 q2.65,-1.5 5.3,0 l5,3.5 q4,2 4,6 v9z" fill="#fff"/><path d="M280.9,174.8 h23.3 v8 q0,5 -5,7.5 l-4.5,3 q-2.15,1.5 -4.3,0 l-4.5,-3 q-5,-2.5 -5,-7.5z" fill="#fff"/><path d="M315.9,162.3 v-9 q0,-4 4,-6 l5,-3.5 q2.65,-1.5 5.3,0 l5,3.5 q4,2 4,6 v9z" fill="#fff"/><path d="M315.9,174.8 h23.3 v8 q0,5 -5,7.5 l-4.5,3 q-2.15,1.5 -4.3,0 l-4.5,-3 q-5,-2.5 -5,-7.5z" fill="#fff"/><path d="M350.9,162.3 v-9 q0,-4 4,-6 l5,-3.5 q2.65,-1.5 5.3,0 l5,3.5 q4,2 4,6 v9z" fill="#fff"/><path d="M350.9,174.8 h23.3 v8 q0,5 -5,7.5 l-4.5,3 q-2.15,1.5 -4.3,0 l-4.5,-3 q-5,-2.5 -5,-7.5z" fill="#fff"/><path d="M385.9,162.3 v-9 q0,-4 4,-6 l5,-3.5 q2.65,-1.5 5.3,0 l5,3.5 q4,2 4,6 v9z" fill="#fff"/><path d="M385.9,174.8 h23.3 v8 q0,5 -5,7.5 l-4.5,3 q-2.15,1.5 -4.3,0 l-4.5,-3 q-5,-2.5 -5,-7.5z" fill="#fff"/><rect x="444.5" y="142.8" width="48.5" height="16.4" fill="#fff"/><rect x="445.0" y="180.0" width="7" height="7.5" fill="#fff"/><rect x="458.3" y="180.0" width="7" height="7.5" fill="#fff"/><rect x="471.6" y="180.0" width="7" height="7.5" fill="#fff"/><rect x="484.9" y="180.0" width="7" height="7.5" fill="#fff"/><path d="M140.9,254.9 v-9 q0,-4 4,-6 l5,-3.5 q2.65,-1.5 5.3,0 l5,3.5 q4,2 4,6 v9z" fill="#fff"/><path d="M140.9,267.4 h23.3 v8 q0,5 -5,7.5 l-4.5,3 q-2.15,1.5 -4.3,0 l-4.5,-3 q-5,-2.5 -5,-7.5z" fill="#fff"/><path d="M175.9,254.9 v-9 q0,-4 4,-6 l5,-3.5 q2.65,-1.5 5.3,0 l5,3.5 q4,2 4,6 v9z" fill="#fff"/><path d="M175.9,267.4 h23.3 v8 q0,5 -5,7.5 l-4.5,3 q-2.15,1.5 -4.3,0 l-4.5,-3 q-5,-2.5 -5,-7.5z" fill="#fff"/><path d="M210.9,254.9 v-9 q0,-4 4,-6 l5,-3.5 q2.65,-1.5 5.3,0 l5,3.5 q4,2 4,6 v9z" fill="#fff"/><path d="M210.9,267.4 h23.3 v8 q0,5 -5,7.5 l-4.5,3 q-2.15,1.5 -4.3,0 l-4.5,-3 q-5,-2.5 -5,-7.5z" fill="#fff"/><path d="M245.9,254.9 v-9 q0,-4 4,-6 l5,-3.5 q2.65,-1.5 5.3,0 l5,3.5 q4,2 4,6 v9z" fill="#fff"/><path d="M245.9,267.4 h23.3 v8 q0,5 -5,7.5 l-4.5,3 q-2.15,1.5 -4.3,0 l-4.5,-3 q-5,-2.5 -5,-7.5z" fill="#fff"/><path d="M280.9,254.9 v-9 q0,-4 4,-6 l5,-3.5 q2.65,-1.5 5.3,0 l5,3.5 q4,2 4,6 v9z" fill="#fff"/><path d="M280.9,267.4 h23.3 v8 q0,5 -5,7.5 l-4.5,3 q-2.15,1.5 -4.3,0 l-4.5,-3 q-5,-2.5 -5,-7.5z" fill="#fff"/><path d="M315.9,254.9 v-9 q0,-4 4,-6 l5,-3.5 q2.65,-1.5 5.3,0 l5,3.5 q4,2 4,6 v9z" fill="#fff"/><path d="M315.9,267.4 h23.3 v8 q0,5 -5,7.5 l-4.5,3 q-2.15,1.5 -4.3,0 l-4.5,-3 q-5,-2.5 -5,-7.5z" fill="#fff"/><path d="M350.9,254.9 v-9 q0,-4 4,-6 l5,-3.5 q2.65,-1.5 5.3,0 l5,3.5 q4,2 4,6 v9z" fill="#fff"/><path d="M350.9,267.4 h23.3 v8 q0,5 -5,7.5 l-4.5,3 q-2.15,1.5 -4.3,0 l-4.5,-3 q-5,-2.5 -5,-7.5z" fill="#fff"/><path d="M385.9,254.9 v-9 q0,-4 4,-6 l5,-3.5 q2.65,-1.5 5.3,0 l5,3.5 q4,2 4,6 v9z" fill="#fff"/><path d="M385.9,267.4 h23.3 v8 q0,5 -5,7.5 l-4.5,3 q-2.15,1.5 -4.3,0 l-4.5,-3 q-5,-2.5 -5,-7.5z" fill="#fff"/><rect x="444.5" y="235.4" width="48.5" height="16.4" fill="#fff"/><rect x="445.0" y="272.6" width="7" height="7.5" fill="#fff"/><rect x="458.3" y="272.6" width="7" height="7.5" fill="#fff"/><rect x="471.6" y="272.6" width="7" height="7.5" fill="#fff"/><rect x="484.9" y="272.6" width="7" height="7.5" fill="#fff"/><g stroke="#d98f4a" stroke-width="5" stroke-linejoin="round">
<polygon points="690,105 810,55 932,100 808,152" fill="url(#gCubeT)"/>
<polygon points="690,105 808,152 810,343 690,295" fill="url(#gCubeL)"/>
<polygon points="808,152 932,100 932,290 810,343" fill="url(#gCubeR)"/>
</g>
<path d="M932,150 Q946,176 936,205" fill="none" stroke="#d98f4a" stroke-width="9"/>
<path d="M931,188 Q917,232 862,243 Q823,250 784,240" fill="none" stroke="#d98f4a" stroke-width="19"/>
<path d="M718,210 Q696,200 682,206 Q672,218 678,234" fill="none" stroke="#d98f4a" stroke-width="13"/>
<polygon points="716,182 755,218 716,240" fill="#d98f4a"/>
<polygon points="754,222 788,204 788,266" fill="#d98f4a"/>
<polygon points="933,265 945,270 945,287 936,281" fill="#d98f4a"/>
</g>
<g filter="url(#fBlur1)"><g transform="translate(890 500) scale(0.226131)">
<g stroke="#8b8b93" stroke-width="5.5" stroke-linejoin="round">
<polygon points="95,178 330,262 330,345 95,262" fill="#fbfbfb"/>
<polygon points="330,262 560,178 560,262 330,345" fill="url(#gSwR)"/>
<polygon points="95,178 330,95 560,178 330,262" fill="#ffffff"/>
</g><polygon points="402.1,146.6 324.1,127.7 327.1,115.5 290.0,124.0 319.0,148.6 322.0,136.4 399.9,155.4" fill="#b9232a"/><polygon points="306.1,180.6 235.1,163.6 238.0,151.4 201.0,160.0 230.1,184.5 233.0,172.3 303.9,189.4" fill="#b9232a"/><polygon points="345.0,174.4 420.8,191.1 418.1,203.3 455.0,194.0 425.5,170.1 422.8,182.3 347.0,165.6" fill="#b9232a"/><polygon points="256.0,208.4 330.8,225.0 328.1,237.2 365.0,228.0 335.5,204.0 332.8,216.2 258.0,199.6" fill="#b9232a"/><polygon points="675,196 885,268 885,311 675,239" fill="#34428f"/>
<polygon points="885,268 1095,196 1095,239 885,311" fill="#212a7a"/>
<polygon points="675,196 885,120 1095,196 885,268" fill="#4659a6"/>
<g fill="none" stroke="#f4f5fc" stroke-width="13" stroke-linecap="round" opacity="0.95">
<path d="M796,166 Q858,176 862,193 Q858,212 792,216"/>
<path d="M980,168 Q918,178 914,193 Q918,212 984,218"/>
<path d="M862,193 L914,193"/>
</g>
<g fill="#f4f5fc" opacity="0.95"><circle cx="812" cy="191" r="6"/><circle cx="962" cy="193" r="6"/></g>
</g>
</g>
</svg>
</body>
</html>
